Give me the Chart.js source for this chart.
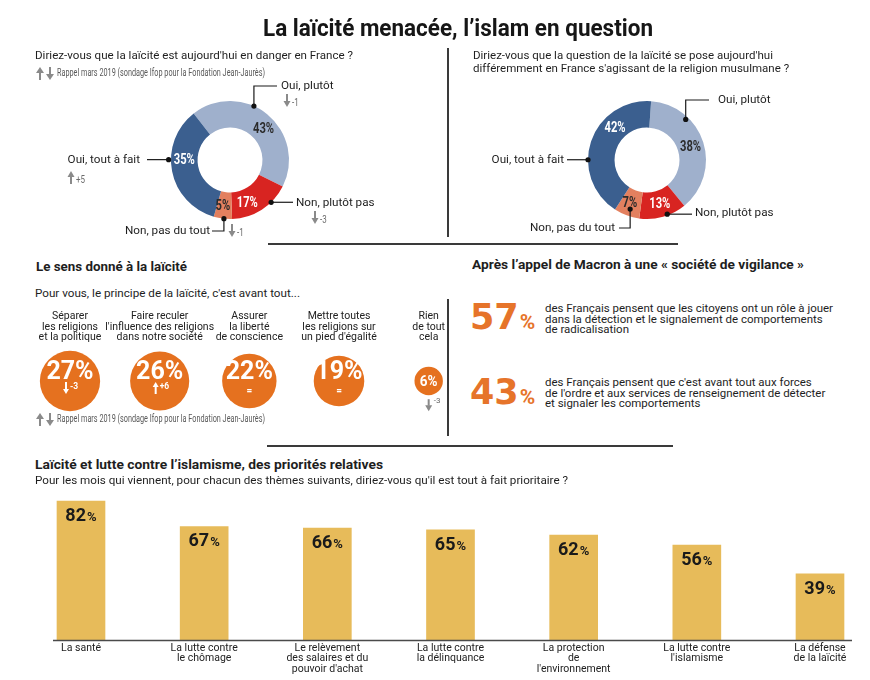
<!DOCTYPE html>
<html lang="fr"><head><meta charset="utf-8"><title>La laïcité menacée, l’islam en question</title>
<script src="https://cdn.jsdelivr.net/npm/chart.js@4.4.1/dist/chart.umd.min.js"></script>
<style>
html,body{margin:0;padding:0;background:#fff;}
#page{position:relative;width:870px;height:680px;overflow:hidden;background:#fff;font-family:Roboto,"Liberation Sans",Arial,sans-serif;color:#1e1e1e;}
.t{position:absolute;white-space:nowrap;}
.rule{position:absolute;background:#3a3a3a;}
canvas{position:absolute;display:block;}
</style></head><body><div id="page">
<canvas id="donutA" width="440" height="200" style="left:0;top:40px;width:440px;height:200px"></canvas>
<canvas id="donutB" width="423" height="200" style="left:447px;top:40px;width:423px;height:200px"></canvas>
<canvas id="bubbles" width="447" height="130" style="left:0;top:300px;width:447px;height:130px"></canvas>
<canvas id="bars" width="870" height="200" style="left:0;top:480px;width:870px;height:200px"></canvas>
</div>
<script>
// ================= DATA =================
const chartTitle = "La laïcité menacée, l’islam en question";
const reminderText = "Rappel mars 2019 (sondage Ifop pour la Fondation Jean-Jaurès)";

const dangerQuestion = "Diriez-vous que la laïcité est aujourd'hui en danger en France ?";
const dangerLabels = ["Oui, plutôt", "Non, plutôt pas", "Non, pas du tout", "Oui, tout à fait"];
const dangerValues = [43, 17, 5, 35];
const dangerDeltas = [-1, -3, -1, 5];

const islamQuestion = ["Diriez-vous que la question de la laïcité se pose aujourd'hui",
                       "différemment en France s'agissant de la religion musulmane ?"];
const islamLabels = ["Oui, plutôt", "Non, plutôt pas", "Non, pas du tout", "Oui, tout à fait"];
const islamValues = [38, 13, 7, 42];

const sensTitle = "Le sens donné à la laïcité";
const sensQuestion = "Pour vous, le principe de la laïcité, c'est avant tout...";
const sensLabels = [["Séparer", "les religions", "et la politique"],
                    ["Faire reculer", "l'influence des religions", "dans notre société"],
                    ["Assurer", "la liberté", "de conscience"],
                    ["Mettre toutes", "les religions sur", "un pied d'égalité"],
                    ["Rien", "de tout", "cela"]];
const sensValues = [27, 26, 22, 19, 6];
const sensDeltas = [-3, 6, 0, 0, -3];

const vigilanceTitle = "Après l’appel de Macron à une « société de vigilance »";
const vigilanceValues = [57, 43];
const vigilanceTexts = [["des Français pensent que les citoyens ont un rôle à jouer",
                         "dans la détection et le signalement de comportements",
                         "de radicalisation"],
                        ["des Français pensent que c'est avant tout aux forces",
                         "de l'ordre et aux services de renseignement de détecter",
                         "et signaler les comportements"]];

const prioTitle = "Laïcité et lutte contre l’islamisme, des priorités relatives";
const prioQuestion = "Pour les mois qui viennent, pour chacun des thèmes suivants, diriez-vous qu'il est tout à fait prioritaire ?";
const prioLabels = [["La santé"], ["La lutte contre", "le chômage"],
                    ["Le relèvement", "des salaires et du", "pouvoir d'achat"],
                    ["La lutte contre", "la délinquance"], ["La protection", "de", "l'environnement"],
                    ["La lutte contre", "l'islamisme"], ["La défense", "de la laïcité"]];
const prioValues = [82, 67, 66, 65, 62, 56, 39];

// ================= STYLE =================
const COL = {
  dark: '#3b5f8f', light: '#9fb0cc', red: '#d82421', salmon: '#e3805f',
  orange: '#e5711f', statOrange: '#e6742a', gold: '#e7bb5a',
  arrow: '#8a8a8a', deltaText: '#6a6a6a', ink: '#1e1e1e'
};
const FF = 'Roboto, "Liberation Sans", Arial, sans-serif';
const page = document.getElementById('page');

function txt(x, base, content, size, o = {}) {
  const d = document.createElement('div');
  d.className = 't';
  d.style.fontSize = size + 'px';
  d.style.lineHeight = size + 'px';
  d.style.top = (base - 0.84 * size) + 'px';
  if (o.bold) d.style.fontWeight = 'bold';
  if (o.color) d.style.color = o.color;
  d.textContent = content;
  page.appendChild(d);
  const w = d.getBoundingClientRect().width;
  let sx = o.sx || 1;
  if (o.w) sx = o.w / w;
  let left = x;
  if (o.align === 'center') left = x - w * sx / 2;
  else if (o.align === 'right') left = x - w * sx;
  d.style.left = left + 'px';
  d.style.transformOrigin = '0 0';
  d.style.transform = 'scaleX(' + sx + ')';
  return sx;
}
function rule(x, y, w, h) {
  const d = document.createElement('div');
  d.className = 'rule';
  Object.assign(d.style, {left: x + 'px', top: y + 'px', width: w + 'px', height: h + 'px'});
  page.appendChild(d);
}
function arrowSVG(cx, top, up, color) {
  const w = 8, h = 13;
  const poly = up ? `${w/2},0 ${w},6 0,6` : `0,${h-6} ${w},${h-6} ${w/2},${h}`;
  const rect = up ? `<rect x="${w/2-1}" y="5" width="2" height="${h-5}"/>` : `<rect x="${w/2-1}" y="0" width="2" height="${h-5}"/>`;
  const d = document.createElement('div');
  d.className = 't';
  d.style.left = (cx - w/2) + 'px'; d.style.top = top + 'px';
  d.innerHTML = `<svg width="${w}" height="${h}" fill="${color}"><polygon points="${poly}"/>${rect}</svg>`;
  page.appendChild(d);
}
function reminder(y) {
  arrowSVG(39.5, y - 7, true, COL.arrow);
  arrowSVG(50, y - 7, false, COL.arrow);
  txt(57, y + 4, reminderText, 10, {w: 208, color: '#5a5a5a'});
}
function fmtDelta(d) { return d > 0 ? '+' + d : (d < 0 ? '-' + Math.abs(d) : '='); }
function drawArrow(ctx, x, top, h, up, color, hw = 7, hh = 6, sw = 2) {
  ctx.save(); ctx.fillStyle = color;
  if (up) {
    ctx.beginPath(); ctx.moveTo(x, top); ctx.lineTo(x + hw/2, top + hh); ctx.lineTo(x - hw/2, top + hh); ctx.closePath(); ctx.fill();
    ctx.fillRect(x - sw/2, top + hh - 0.5, sw, h - hh + 0.5);
  } else {
    ctx.fillRect(x - sw/2, top, sw, h - hh + 0.5);
    ctx.beginPath(); ctx.moveTo(x - hw/2, top + h - hh); ctx.lineTo(x + hw/2, top + h - hh); ctx.lineTo(x, top + h); ctx.closePath(); ctx.fill();
  }
  ctx.restore();
}

// ================= STATIC TEXT =================
txt(458, 36, chartTitle, 23, {bold: true, w: 390, align: 'center', color: '#161616'});
txt(35, 60, dangerQuestion, 11.5, {w: 318});
reminder(72);
rule(447, 48, 1.5, 189);
const sq = txt(473, 60, islamQuestion[0], 11.5, {w: 300});
txt(473, 73, islamQuestion[1], 11.5, {sx: sq});
rule(268, 243, 410, 1.5);

txt(36, 271.5, sensTitle, 13.5, {bold: true, w: 151});
txt(35, 297, sensQuestion, 11, {w: 265});
reminder(418);
rule(447, 299, 1.5, 137);

txt(472, 269.5, vigilanceTitle, 13.5, {bold: true, w: 332});
const statBase = [330, 405];
const statLineBase = [313, 387];
let statSx = null;
vigilanceValues.forEach((v, i) => {
  const d = document.createElement('div');
  d.className = 't';
  d.style.left = '470px';
  d.style.color = COL.statOrange;
  d.style.font = 'bold 35px "DejaVu Sans", ' + FF;
  d.style.lineHeight = '35px';
  d.style.top = (statBase[i] - 29.6) + 'px';
  d.innerHTML = v + '<span style="font:bold 21px ' + FF.replace(/"/g, "'") + ';margin-left:1px">%</span>';
  page.appendChild(d);
  vigilanceTexts[i].forEach((line, j) => {
    const o = statSx === null ? {w: 288} : {sx: statSx};
    const r = txt(545, statLineBase[i] + j * 10.5, line, 11.5, o);
    if (statSx === null) statSx = r;
  });
});
rule(267, 445, 406, 1.5);

txt(35, 469.3, prioTitle, 13.5, {bold: true, w: 348});
txt(35, 484, prioQuestion, 11, {w: 533});

// ================= DONUTS =================
function donutPlugin(values, labels, deltas, spec) {
  return {
    id: 'donutDeco',
    afterDatasetsDraw(chart) {
      const ctx = chart.ctx;
      const meta = chart.getDatasetMeta(0);
      const a0 = meta.data[0];
      const cx = a0.x, cy = a0.y, R = a0.outerRadius, r0 = a0.innerRadius;
      meta.data.forEach((arc, i) => {
        const th = arc.startAngle + spec.labelF[i] * (arc.endAngle - arc.startAngle);
        const rm = (R + r0) / 2;
        ctx.save();
        ctx.translate(cx + rm * Math.cos(th), cy + rm * Math.sin(th));
        ctx.scale(0.8, 1);
        ctx.font = 'bold 14px ' + FF;
        ctx.fillStyle = spec.innerText[i];
        ctx.textAlign = 'center'; ctx.textBaseline = 'middle';
        ctx.fillText(values[i] + '%', 0, 1);
        ctx.restore();
      });
      spec.callouts.forEach((c, i) => {
        const arc = meta.data[i];
        const th = arc.startAngle + c.f * (arc.endAngle - arc.startAngle);
        const dx = cx + c.rf * R * Math.cos(th), dy = cy + c.rf * R * Math.sin(th);
        ctx.save();
        ctx.strokeStyle = '#1a1a1a'; ctx.lineWidth = 1.2;
        ctx.beginPath(); ctx.moveTo(dx, dy);
        let px = dx, py = dy;
        c.path.forEach(([k, v]) => { if (k === 'v') py = cy + v; else px = cx + v; ctx.lineTo(px, py); });
        ctx.stroke();
        ctx.beginPath(); ctx.arc(dx, dy, 2.6, 0, Math.PI * 2); ctx.fillStyle = '#111'; ctx.fill();
        ctx.font = '11.7px ' + FF; ctx.fillStyle = COL.ink;
        ctx.textAlign = c.align; ctx.textBaseline = 'middle';
        ctx.fillText(labels[i], cx + c.tx, cy + c.ty);
        if (deltas && c.delta) {
          const ax = cx + c.delta[0], at = cy + c.delta[1];
          drawArrow(ctx, ax, at, 13, deltas[i] > 0, COL.arrow);
          ctx.translate(ax + 5, at + 9); ctx.scale(0.8, 1);
          ctx.font = '10px ' + FF; ctx.fillStyle = COL.deltaText; ctx.textAlign = 'left';
          ctx.fillText(fmtDelta(deltas[i]), 0, 0);
        }
        ctx.restore();
      });
    }
  };
}
function makeDonut(id, values, labels, deltas, spec, pad) {
  return new Chart(document.getElementById(id), {
    type: 'doughnut',
    data: {labels: labels, datasets: [{data: values, backgroundColor: spec.colors, borderWidth: 0, hoverOffset: 0}]},
    options: {
      responsive: false, animation: false, events: [],
      rotation: spec.rotation, cutout: '55%', radius: 59,
      layout: {padding: pad, autoPadding: false},
      plugins: {legend: {display: false}, tooltip: {enabled: false}}
    },
    plugins: [donutPlugin(values, labels, deltas, spec)]
  });
}
const sliceColors = [COL.light, COL.red, COL.salmon, COL.dark];
const sliceInk = ['#2b2b2b', '#ffffff', '#2b2b2b', '#ffffff'];
makeDonut('donutA', dangerValues, dangerLabels, dangerDeltas, {
  colors: sliceColors, innerText: sliceInk, rotation: -38,
  labelF: [0.55, 0.67, 0.61, 0.59],
  callouts: [
    {f: 0.40, rf: 1.0, path: [['v', -74], ['h', 47]], tx: 51, ty: -74, align: 'left', delta: [57, -66]},
    {f: 0.31, rf: 1.0, path: [['h', 63]], tx: 66, ty: 43, align: 'left', delta: [85, 51]},
    {f: 0.44, rf: 1.0, path: [['v', 71], ['h', -18]], tx: -20, ty: 71, align: 'right', delta: [2, 64]},
    {f: 0.59, rf: 1.04, path: [['h', -83]], tx: -90, ty: 0, align: 'right', delta: [-159, 11]}
  ]
}, {left: 130, right: 110, top: 60, bottom: 20});
makeDonut('donutB', islamValues, islamLabels, null, {
  colors: sliceColors, innerText: sliceInk, rotation: 4,
  labelF: [0.50, 0.49, 0.57, 0.68],
  callouts: [
    {f: 0.29, rf: 0.95, path: [['v', -60], ['h', 62]], tx: 71, ty: -60, align: 'left'},
    {f: 0.40, rf: 0.98, path: [['h', 45]], tx: 48, ty: 53, align: 'left'},
    {f: 0.45, rf: 0.88, path: [['v', 68], ['h', -28]], tx: -32, ty: 68, align: 'right'},
    {f: 0.38, rf: 1.0, path: [['h', -80]], tx: -83, ty: 0, align: 'right'}
  ]
}, {left: 100, right: 123, top: 60, bottom: 20});

// ================= BUBBLES =================
const bubblePlugin = {
  id: 'bubbleText',
  afterDatasetsDraw(chart) {
    const ctx = chart.ctx;
    chart.getDatasetMeta(0).data.forEach((el, i) => {
      const r = el.options.radius, x = el.x, y = el.y;
      const d = sensDeltas[i];
      ctx.save();
      ctx.textAlign = 'center'; ctx.textBaseline = 'middle'; ctx.fillStyle = '#fff';
      if (r >= 20) {
        ctx.font = 'bold 25px ' + FF;
        ctx.fillText(sensValues[i] + '%', x, y - 8);
        if (d === 0) {
          ctx.font = 'bold 10px ' + FF; ctx.fillText('=', x, y + 10);
        } else {
          drawArrow(ctx, x - 4, y + 1, 12, d > 0, '#fff', 6, 5, 2);
          ctx.font = 'bold 8.5px ' + FF; ctx.textAlign = 'left';
          ctx.fillText(fmtDelta(d), x, y + 6);
        }
      } else {
        ctx.translate(x, y + 1); ctx.scale(0.9, 1);
        ctx.font = 'bold 15px ' + FF;
        ctx.fillText(sensValues[i] + '%', 0, 0);
        ctx.setTransform(1, 0, 0, 1, 0, 0);
        drawArrow(ctx, x, y + r + 4, 12, d > 0, COL.arrow, 7, 6, 2);
        ctx.font = '8px ' + FF; ctx.fillStyle = COL.deltaText; ctx.textAlign = 'left';
        ctx.fillText(fmtDelta(d), x + 5, y + r + 6);
      }
      ctx.restore();
    });
  }
};
new Chart(document.getElementById('bubbles'), {
  type: 'bubble',
  data: {
    labels: sensLabels,
    datasets: [{
      data: sensValues.map((v, i) => ({x: i, y: 0, r: 5.8 * Math.sqrt(v)})),
      backgroundColor: COL.orange, borderWidth: 0, clip: false
    }]
  },
  options: {
    responsive: false, animation: false, events: [],
    layout: {padding: {left: 70, right: 17, top: 0, bottom: 13}, autoPadding: false},
    plugins: {legend: {display: false}, tooltip: {enabled: false}},
    scales: {
      x: {type: 'category', position: 'top', offset: false,
          grid: {display: false, drawTicks: false}, border: {display: false},
          ticks: {autoSkip: false, maxRotation: 0, padding: 2, color: '#222',
                  font: {family: FF, size: 10.5, lineHeight: 1.0}},
          afterFit(s) { s.height = 45; }},
      y: {display: false, min: -1, max: 1}
    }
  },
  plugins: [bubblePlugin]
});

// ================= BARS =================
const barPlugin = {
  id: 'barDeco',
  afterDatasetsDraw(chart) {
    const {ctx, chartArea} = chart;
    ctx.save();
    ctx.strokeStyle = '#4a4a4a'; ctx.lineWidth = 1.5;
    ctx.beginPath();
    ctx.moveTo(chartArea.left - 28, chartArea.bottom + 0.5);
    ctx.lineTo(chartArea.right + 32, chartArea.bottom + 0.5);
    ctx.stroke();
    chart.getDatasetMeta(0).data.forEach((bar, i) => {
      const num = String(prioValues[i]);
      ctx.font = 'bold 18px ' + FF; const w1 = ctx.measureText(num).width;
      ctx.font = 'bold 13px ' + FF; const w2 = ctx.measureText('%').width;
      const x0 = bar.x - (w1 + w2 + 1) / 2, yb = bar.y + 20;
      ctx.fillStyle = '#1a1a1a'; ctx.textAlign = 'left'; ctx.textBaseline = 'alphabetic';
      ctx.font = 'bold 18px ' + FF; ctx.fillText(num, x0, yb);
      ctx.font = 'bold 13px ' + FF; ctx.fillText('%', x0 + w1 + 1, yb);
    });
    ctx.restore();
  }
};
new Chart(document.getElementById('bars'), {
  type: 'bar',
  data: {labels: prioLabels, datasets: [{data: prioValues, backgroundColor: COL.gold, barThickness: 48, clip: false}]},
  options: {
    responsive: false, animation: false, events: [],
    layout: {padding: {left: 81, right: 50, top: 16, bottom: 0}, autoPadding: false},
    plugins: {legend: {display: false}, tooltip: {enabled: false}},
    scales: {
      x: {offset: false, grid: {display: false, drawTicks: false}, border: {display: false},
          ticks: {autoSkip: false, maxRotation: 0, padding: 3, color: '#222',
                  font: {family: FF, size: 10.5, lineHeight: 1.0}},
          afterFit(s) { s.height = 40; }},
      y: {display: false, min: 0, max: 85}
    }
  },
  plugins: [barPlugin]
});
</script></body></html>
